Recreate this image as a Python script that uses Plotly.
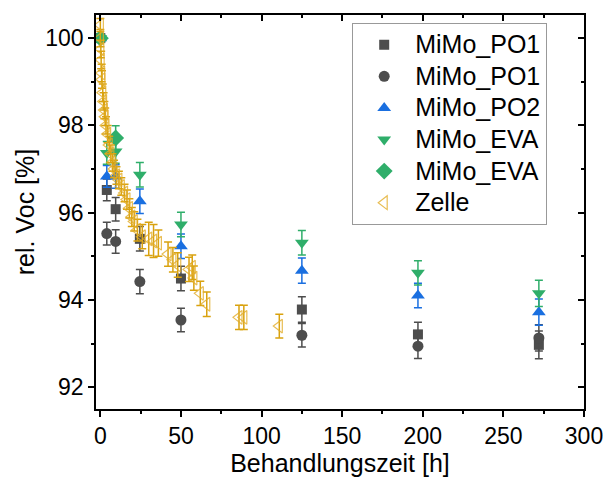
import plotly.graph_objects as go

# Behandlungszeit [h] and relative Voc [%] per sample series
t_mimo = [0, 4, 9.5, 24.5, 50, 125, 197, 272]

po1_sq_y = [100.0, 96.52, 96.08, 95.40, 94.49, 93.78, 93.21, 92.97]
po1_sq_err = [0.05, 0.25, 0.27, 0.28, 0.28, 0.29, 0.28, 0.32]

po1_ci_y = [100.0, 95.52, 95.34, 94.42, 93.54, 93.19, 92.94, 93.13]
po1_ci_err = [0.05, 0.26, 0.27, 0.28, 0.27, 0.27, 0.28, 0.30]

po2_y = [100.0, 96.83, 96.83, 96.26, 95.23, 94.67, 94.10, 93.72]
po2_err = [0.05, 0.25, 0.27, 0.28, 0.28, 0.29, 0.28, 0.30]

eva_dn_y = [100.0, 97.37, 97.40, 96.87, 95.73, 95.31, 94.62, 94.15]
eva_dn_err = [0.05, 0.26, 0.27, 0.28, 0.28, 0.28, 0.28, 0.30]

t_eva_di = [0, 9.5]
eva_di_y = [100.0, 97.71]
eva_di_err = [0.05, 0.28]

t_zelle = [0, 0, 0.3, 0.5, 0.8, 1.0, 1.5, 2.0, 2.5, 3.0, 3.5, 4.5, 5.5, 6.5,
           7.5, 8.5, 10.0, 11.5, 13.0, 15.0, 16.5, 18.0, 19.5, 21.0, 23.0,
           26.0, 30.0, 33.0, 36.0, 42.0, 45.0, 48.0, 55.0, 57.0, 58.0, 62.0,
           66.0, 86.0, 89.0, 111.0]
zelle_y = [100.3, 100.0, 99.75, 99.5, 99.2, 99.05, 98.75, 98.55, 98.35, 98.2,
           98.0, 97.8, 97.55, 97.35, 97.15, 97.0, 96.85, 96.75, 96.6, 96.45,
           96.3, 96.1, 95.9, 95.8, 95.6, 95.45, 95.4, 95.35, 95.3, 95.05,
           94.92, 94.8, 94.7, 94.75, 94.5, 94.15, 93.9, 93.6, 93.6, 93.4]
zelle_err = [0.15, 0.2, 0.2, 0.2, 0.2, 0.2, 0.2, 0.2, 0.2, 0.2,
             0.2, 0.2, 0.2, 0.2, 0.2, 0.2, 0.2, 0.2, 0.2, 0.2,
             0.22, 0.22, 0.22, 0.22, 0.25, 0.28, 0.38, 0.38, 0.3, 0.28,
             0.28, 0.28, 0.28, 0.28, 0.28, 0.28, 0.28, 0.28, 0.28, 0.27]

GRAY = "#4d4d4d"
BLUE = "#1a6fe0"
GREEN = "#2fae6a"
GOLD = "#d9a20f"
FONT = "Liberation Sans, Arial, sans-serif"


def legend_label(text):
    # larger glyphs than the legend's row height would give on its own
    return '<span style="font-size:25px">' + text + "</span>"


fig = go.Figure()


def add_series(x, y, err, name, symbol, color, size):
    fig.add_trace(go.Scatter(
        x=x, y=y, mode="markers", name=legend_label(name),
        marker=dict(symbol=symbol, color=color, size=size, line=dict(width=0)),
        error_y=dict(type="data", array=err, visible=True, color=color,
                     thickness=1.5, width=4),
        legendgroup=name + symbol,
    ))


add_series(t_mimo, po1_sq_y, po1_sq_err, "MiMo_PO1", "square", GRAY, 10)
add_series(t_mimo, po1_ci_y, po1_ci_err, "MiMo_PO1", "circle", GRAY, 11)
add_series(t_mimo, po2_y, po2_err, "MiMo_PO2", "triangle-up", BLUE, 12)
add_series(t_mimo, eva_dn_y, eva_dn_err, "MiMo_EVA", "triangle-down", GREEN, 12)
add_series(t_eva_di, eva_di_y, eva_di_err, "MiMo_EVA", "diamond", GREEN, 13)

fig.add_trace(go.Scatter(
    x=t_zelle, y=zelle_y, mode="markers", name=legend_label("Zelle"),
    marker=dict(symbol="triangle-left-open", color="rgba(226,172,40,0.8)",
                size=12, line=dict(width=1.2)),
    error_y=dict(type="data", array=zelle_err, visible=True, color=GOLD,
                 thickness=1.5, width=4),
    legendgroup="zelle",
))

# companion axes for the top/right frame with inward ticks
fig.add_trace(go.Scatter(x=[None], y=[None], xaxis="x2", yaxis="y2",
                         showlegend=False, hoverinfo="skip"))

XR = [-2.7, 300]
YR = [91.5, 100.53]

axis_common = dict(showline=True, linecolor="black", linewidth=1.5,
                   showgrid=False, zeroline=False, tickcolor="black",
                   tickwidth=1.5, mirror=False, automargin=False)

fig.update_layout(
    width=603, height=481,
    margin=dict(l=96, r=19, t=15, b=71.5),
    plot_bgcolor="white", paper_bgcolor="white",
    font=dict(family=FONT, color="black"),
    xaxis=dict(range=XR, tickvals=[0, 50, 100, 150, 200, 250, 300],
               ticks="outside", ticklen=6, ticklabeloverflow="allow",
               minor=dict(tickvals=[25, 75, 125, 175, 225, 275], ticks="outside",
                          ticklen=3.5, tickwidth=1.5, tickcolor="black"),
               tickfont=dict(size=23, family=FONT),
               title=dict(text="Behandlungszeit [h]", font=dict(size=25, family=FONT),
                          standoff=4),
               **axis_common),
    yaxis=dict(range=YR, tickvals=[92, 94, 96, 98, 100],
               ticks="outside", ticklen=6, ticklabeloverflow="allow",
               minor=dict(tickvals=[93, 95, 97, 99], ticks="outside",
                          ticklen=3.5, tickwidth=1.5, tickcolor="black"),
               tickfont=dict(size=23, family=FONT),
               title=dict(text="rel. Voc [%]", font=dict(size=25, family=FONT),
                          standoff=4),
               **axis_common),
    xaxis2=dict(range=XR, overlaying="x", side="top", anchor="y2",
                tickvals=[0, 50, 100, 150, 200, 250, 300], ticks="inside",
                ticklen=6, showticklabels=False,
                minor=dict(tickvals=[25, 75, 125, 175, 225, 275], ticks="inside",
                           ticklen=3.5, tickwidth=1.5, tickcolor="black"),
                **axis_common),
    yaxis2=dict(range=YR, overlaying="y", side="right", anchor="x2",
                tickvals=[92, 94, 96, 98, 100], ticks="inside",
                ticklen=6, showticklabels=False,
                minor=dict(tickvals=[93, 95, 97, 99], ticks="inside",
                           ticklen=3.5, tickwidth=1.5, tickcolor="black"),
                **axis_common),
    legend=dict(x=0.525, y=0.98, xanchor="left", yanchor="top",
                bgcolor="white", bordercolor="#999999", borderwidth=1,
                font=dict(size=22, family=FONT), tracegroupgap=0,
                itemwidth=52),
    showlegend=True,
)

fig.write_html("out.html")
